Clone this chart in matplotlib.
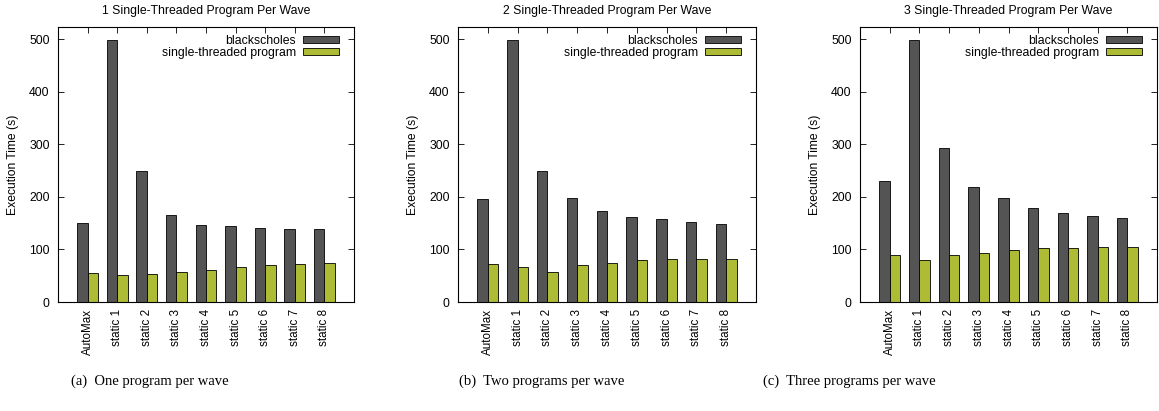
import matplotlib
matplotlib.use("Agg")
import matplotlib.pyplot as plt
import numpy as np

categories = ["AutoMax", "static 1", "static 2", "static 3", "static 4",
              "static 5", "static 6", "static 7", "static 8"]

titles = ["1 Single-Threaded Program Per Wave",
          "2 Single-Threaded Program Per Wave",
          "3 Single-Threaded Program Per Wave"]
captions = ["(a)  One program per wave",
            "(b)  Two programs per wave",
            "(c)  Three programs per wave"]

series_names = ["blackscholes", "single-threaded program"]

black1 = [151, 498, 249, 166, 146, 145, 141, 139, 138]
single1 = [56, 52, 54, 57, 61, 67, 70, 73, 74]
black2 = [195, 498, 249, 197, 173, 162, 157, 153, 149]
single2 = [72, 67, 58, 71, 75, 79, 82, 81, 81]
black3 = [230, 498, 293, 218, 197, 178, 170, 163, 159]
single3 = [89, 79, 90, 94, 98, 102, 103, 104, 105]

yticks = [0, 100, 200, 300, 400, 500]

dark = "#545454"
green = "#aebc35"

plt.rcParams['font.family'] = ['Liberation Sans', 'DejaVu Sans']

fig = plt.figure(figsize=(11.59, 4.11), dpi=100)
lefts = [58, 458, 860]
widths = [296, 298, 297]
H = 411.0
W = 1159.0
bottom_px, top_px = 302, 27
data = [(black1, single1), (black2, single2), (black3, single3)]
cap_centers = [150, 542, 849]

x = np.arange(len(categories))
bw = 0.35
fs = 8.8
for i in range(3):
    ax = fig.add_axes([lefts[i] / W, 1 - bottom_px / H, widths[i] / W, (bottom_px - top_px) / H])
    b, s = data[i]
    ax.bar(x - bw / 2, b, width=bw, color=dark, edgecolor="black", linewidth=0.6, label=series_names[0])
    ax.bar(x + bw / 2, s, width=bw, color=green, edgecolor="black", linewidth=0.6, label=series_names[1])
    ax.set_xlim(-1, 9)
    ax.set_ylim(0, 523)
    ax.set_yticks(yticks)
    ax.set_xticks(x)
    ax.set_xticklabels(categories, rotation=90, ha="center", va="top", fontsize=8.4)
    ax.tick_params(axis="y", direction="in", left=True, right=True, labelsize=fs, length=4, width=0.6, pad=6)
    ax.tick_params(axis="x", direction="in", bottom=False, top=True, length=4, width=0.6, pad=5)
    for sp in ax.spines.values():
        sp.set_linewidth(0.8)
    ax.set_ylabel("Execution Time (s)", fontsize=8.7, labelpad=7)
    ax.set_title(titles[i], fontsize=8.8, pad=9.5)
    ax.legend(loc="upper right", bbox_to_anchor=(1 - 10.0 / widths[i], 1 - 3.0 / 275),
              frameon=False, fontsize=fs, markerfirst=False,
              handlelength=2.95, handleheight=0.5, labelspacing=0.0,
              borderaxespad=0.0, borderpad=0.4, handletextpad=0.57)
    fig.text(cap_centers[i] / W, 1 - 381 / H, captions[i], ha="center", va="center",
             fontsize=10.5, family=["Liberation Serif", "DejaVu Serif"])

fig.savefig("out.png", dpi=100)
